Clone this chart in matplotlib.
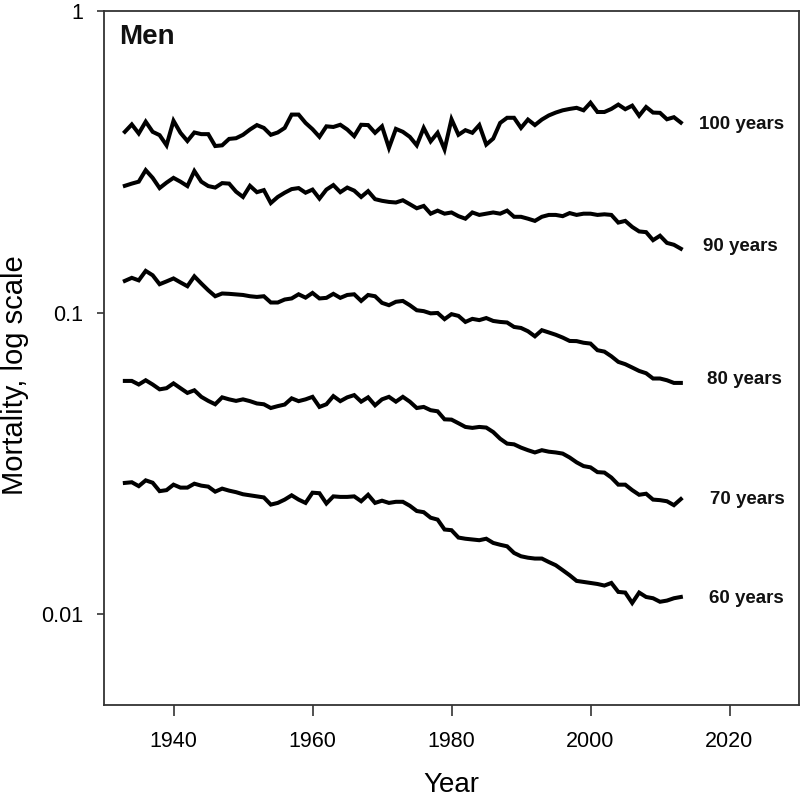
import numpy as np
import matplotlib
matplotlib.use("Agg")
import matplotlib.pyplot as plt
from matplotlib.ticker import FixedLocator, FixedFormatter, NullLocator

plt.rcParams['font.family'] = ['Liberation Sans', 'DejaVu Sans']

years = list(range(1933, 2014))

m100 = [0.398, 0.421, 0.393, 0.430, 0.398, 0.388, 0.359, 0.433, 0.395, 0.371,
        0.396, 0.391, 0.391, 0.357, 0.359, 0.377, 0.379, 0.389, 0.405, 0.419,
        0.410, 0.389, 0.396, 0.410, 0.454, 0.454, 0.426, 0.406, 0.383, 0.415,
        0.413, 0.420, 0.405, 0.385, 0.420, 0.419, 0.395, 0.415, 0.352, 0.407,
        0.398, 0.383, 0.359, 0.410, 0.370, 0.395, 0.348, 0.438, 0.389, 0.403,
        0.395, 0.419, 0.361, 0.378, 0.426, 0.443, 0.443, 0.410, 0.437, 0.419,
        0.437, 0.451, 0.461, 0.469, 0.474, 0.478, 0.469, 0.497, 0.463, 0.463,
        0.474, 0.490, 0.473, 0.486, 0.450, 0.481, 0.461, 0.460, 0.438, 0.445,
        0.427]

m90 = [0.2635, 0.268, 0.272, 0.297, 0.280, 0.259, 0.270, 0.280, 0.272, 0.263,
       0.295, 0.272, 0.263, 0.260, 0.269, 0.268, 0.252, 0.242, 0.2635, 0.251,
       0.255, 0.231, 0.242, 0.250, 0.257, 0.259, 0.250, 0.256, 0.239, 0.256,
       0.265, 0.251, 0.260, 0.254, 0.242, 0.253, 0.238, 0.235, 0.233, 0.232,
       0.236, 0.229, 0.222, 0.226, 0.213, 0.218, 0.213, 0.215, 0.209, 0.205,
       0.215, 0.211, 0.213, 0.215, 0.213, 0.218, 0.208, 0.208, 0.205, 0.2016,
       0.208, 0.211, 0.211, 0.209, 0.214, 0.211, 0.213, 0.213, 0.211, 0.212,
       0.211, 0.199, 0.2016, 0.1925, 0.186, 0.185, 0.174, 0.180, 0.1704, 0.168,
       0.163]

m80 = [0.1275, 0.1305, 0.128, 0.1376, 0.1331, 0.1243, 0.127, 0.1299, 0.126, 0.1224,
       0.132, 0.125, 0.1187, 0.1134, 0.1158, 0.1155, 0.115, 0.1145, 0.1134, 0.1128,
       0.1134, 0.1081, 0.1081, 0.1106, 0.1115, 0.1151, 0.1122, 0.1163, 0.1115, 0.112,
       0.1155, 0.112, 0.1145, 0.1151, 0.1094, 0.1145, 0.1134, 0.1078, 0.1059, 0.1087,
       0.1094, 0.1059, 0.1019, 0.1012, 0.0995, 0.0998, 0.0952, 0.0989, 0.0976, 0.0932,
       0.0954, 0.0945, 0.096, 0.0939, 0.0932, 0.0928, 0.0897, 0.089, 0.0868, 0.0835,
       0.0875, 0.086, 0.0845, 0.0827, 0.0806, 0.0805, 0.0795, 0.079, 0.0751, 0.0743,
       0.0717, 0.0687, 0.0675, 0.0658, 0.0641, 0.063, 0.0605, 0.0605, 0.0597, 0.0585,
       0.0585]

m70 = [0.0594, 0.0594, 0.0578, 0.0597, 0.0578, 0.0557, 0.0562, 0.0583, 0.0562, 0.0542,
       0.0553, 0.0526, 0.0510, 0.0497, 0.0524, 0.0516, 0.0510, 0.0516, 0.0509, 0.0500,
       0.0497, 0.0483, 0.0490, 0.0496, 0.0520, 0.0509, 0.0516, 0.0526, 0.0487, 0.0497,
       0.0529, 0.0509, 0.0524, 0.0533, 0.0507, 0.0524, 0.0493, 0.0516, 0.0526, 0.0507,
       0.0526, 0.0507, 0.0483, 0.0487, 0.0475, 0.0471, 0.0443, 0.0442, 0.0430, 0.0418,
       0.0415, 0.0418, 0.0416, 0.0402, 0.0382, 0.0368, 0.0366, 0.0357, 0.0350, 0.0344,
       0.0350, 0.0346, 0.0344, 0.0341, 0.0331, 0.0319, 0.0310, 0.0307, 0.0296, 0.0295,
       0.0284, 0.0269, 0.0269, 0.0258, 0.0249, 0.0251, 0.0240, 0.0239, 0.0237, 0.0230,
       0.0241]

m60 = [0.02726, 0.0274, 0.0266, 0.0278, 0.0273, 0.0256, 0.0258, 0.0269, 0.0263, 0.0263,
       0.0271, 0.0267, 0.0265, 0.0255, 0.0261, 0.0257, 0.0254, 0.0250, 0.0248, 0.0246,
       0.0244, 0.0231, 0.0234, 0.0240, 0.0248, 0.0240, 0.0234, 0.0253, 0.0252, 0.0233,
       0.0246, 0.0245, 0.0245, 0.0246, 0.0237, 0.0249, 0.0234, 0.0238, 0.0234, 0.0236,
       0.0236, 0.0229, 0.0220, 0.0218, 0.0209, 0.0206, 0.0191, 0.0190, 0.01796, 0.0178,
       0.0177, 0.0176, 0.0178, 0.01724, 0.0170, 0.0168, 0.01597, 0.01557, 0.0154, 0.0153,
       0.0153, 0.0149, 0.01454, 0.0140, 0.01347, 0.0129, 0.0128, 0.0127, 0.0126, 0.01245,
       0.0127, 0.01186, 0.0118, 0.0109, 0.0118, 0.01141, 0.0113, 0.0110, 0.0111, 0.0113,
       0.01141]

series = [m100, m90, m80, m70, m60]
labels = ["100 years", "90 years", "80 years", "70 years", "60 years"]
label_x = [2015.65, 2016.2, 2016.8, 2017.2, 2017.1]
label_y = [0.427, 0.1687, 0.0612, 0.0244, 0.01147]

fig = plt.figure(figsize=(8.0, 7.97), dpi=100)
ax = fig.add_axes([0.13, 0.1154, 0.86875, 0.8706])

for vals in series:
    ax.plot(years, vals, color='black', lw=2.9, solid_joinstyle='miter')

for lab, lx, ly in zip(labels, label_x, label_y):
    ax.text(lx, ly, lab, fontsize=13.5, fontweight='bold', ha='left',
            va='center_baseline', color='#111111')

ax.set_yscale('log')
ax.set_xlim(1930, 2030)
ax.set_ylim(0.005, 1)

ax.yaxis.set_major_locator(FixedLocator([0.01, 0.1, 1]))
ax.yaxis.set_major_formatter(FixedFormatter(['0.01', '0.1', '1']))
ax.yaxis.set_minor_locator(NullLocator())
ax.set_xticks([1940, 1960, 1980, 2000, 2020])
ax.set_xticklabels(['1940', '1960', '1980', '2000', '2020'])

ax.tick_params(axis='x', direction='out', length=8, width=1.2, labelsize=15.5, pad=11, color='#333333')
ax.tick_params(axis='y', direction='out', length=5, width=1.2, labelsize=15.5, pad=10, color='#333333')
for sp in ax.spines.values():
    sp.set_linewidth(1.3)
    sp.set_color('#333333')

ax.set_xlabel('Year', fontsize=20, labelpad=14)
ax.set_ylabel('Mortality, log scale', fontsize=21, va='center')
ax.yaxis.set_label_coords(-0.128, 0.4755)

ax.text(0.022, 0.952, 'Men', transform=ax.transAxes, fontsize=20,
        fontweight='bold', ha='left', va='baseline', color='#111111')

fig.savefig('out.png', dpi=100)
